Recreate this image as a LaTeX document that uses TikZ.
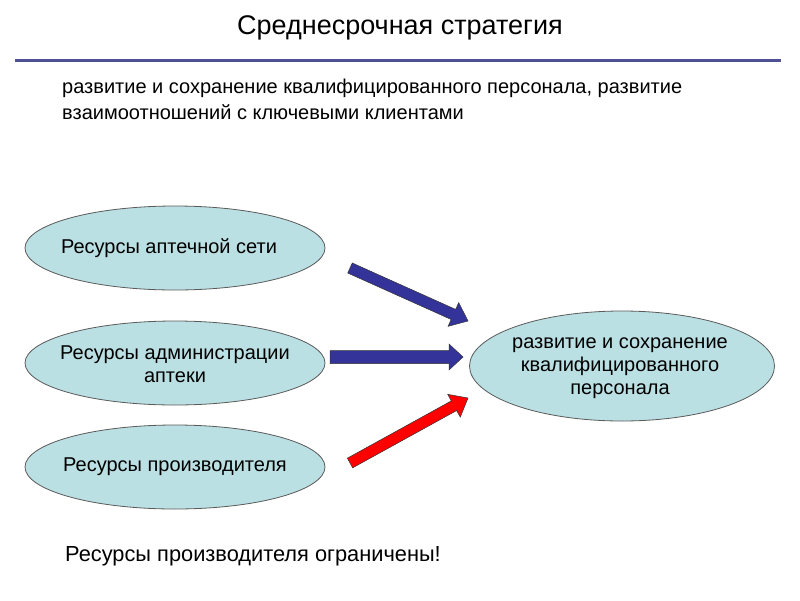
\documentclass[tikz,border=0pt]{standalone}
\usepackage{fontspec}
\setmainfont{Liberation Sans}
\usetikzlibrary{shapes.geometric,calc}
\definecolor{ellfill}{RGB}{187,224,227}
\definecolor{ellborder}{RGB}{90,90,90}
\definecolor{navy}{RGB}{51,51,153}
\definecolor{rulecol}{RGB}{80,80,150}
\tikzset{
  oval/.style={ellipse, draw=ellborder, fill=ellfill, line width=0.8pt, inner sep=0pt},
  ovaltext/.style={align=center, inner sep=0pt, font=\fontsize{20}{23}\selectfont},
  fatarrow/.style={draw=black!80, line width=0.5pt, line join=miter}
}
\newcommand{\fatarr}[6]{%
  % #1 tail, #2 tip, #3 half shaft width, #4 half head width, #5 head length (pt), #6 color
  \coordinate (hb) at ($(#2)!#5pt!(#1)$);
  \filldraw[fatarrow, fill=#6]
    ($(#1)!#3pt!90:(#2)$) -- ($(hb)!#3pt!-90:(#1)$) -- ($(hb)!#4pt!-90:(#1)$) -- (#2)
    -- ($(hb)!#4pt!90:(#1)$) -- ($(hb)!#3pt!90:(#1)$) -- ($(#1)!#3pt!-90:(#2)$) -- cycle;
}
\begin{document}
\begin{tikzpicture}[x=1pt,y=-1pt]
\useasboundingbox (0,0) rectangle (800,600);
\node[font=\fontsize{27}{30}\selectfont] (title) at (400,28) {Среднесрочная стратегия};
\draw[rulecol, line width=3pt] (15,60) -- (781,60);
\node[anchor=north west, inner sep=0pt, align=left, font=\fontsize{20}{26}\selectfont] (sub) at (62,79)
  {развитие и сохранение квалифицированного персонала, развитие\\взаимоотношений с ключевыми клиентами};

\node[oval, minimum width=300, minimum height=84] (e1) at (175,248) {};
\node[oval, minimum width=300, minimum height=84] (e2) at (175,363) {};
\node[oval, minimum width=300, minimum height=84] (e3) at (175,467) {};
\node[oval, minimum width=305, minimum height=110] (e4) at (622,366) {};
\node[ovaltext] (t1) at ($(e1)+(-6,0)$) {Ресурсы аптечной сети};
\node[ovaltext] (t2) at ($(e2)+(0,1)$) {Ресурсы администрации\\аптеки};
\node[ovaltext] (t3) at (e3) {Ресурсы производителя};
\node[ovaltext] (t4) at ($(e4)+(-2,2)$) {развитие и сохранение\\квалифицированного\\персонала};

\coordinate (a1t) at (350,268); \coordinate (a1h) at (468,321);
\coordinate (a2t) at (330,357); \coordinate (a2h) at (463,357);
\coordinate (a3t) at (350,463); \coordinate (a3h) at (468,398);
\fatarr{a1t}{a1h}{5.5}{13}{16}{navy}
\fatarr{a2t}{a2h}{6.5}{13}{14}{navy}
\fatarr{a3t}{a3h}{5.5}{13}{16}{red}

\node[anchor=west, inner sep=0pt, font=\fontsize{21.8}{25}\selectfont] (note) at (65,556) {Ресурсы производителя ограничены!};
\end{tikzpicture}
\end{document}
